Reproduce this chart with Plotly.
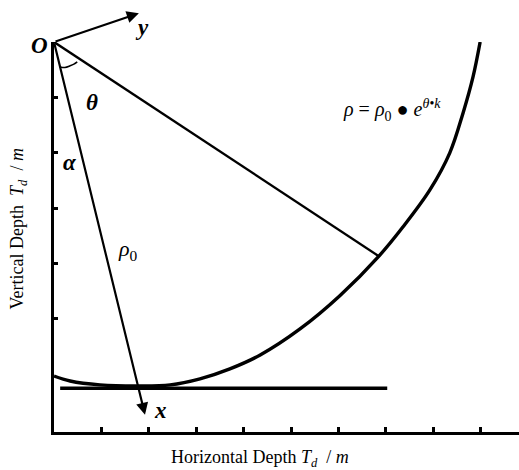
import plotly.graph_objects as go

# ---- diagram data (axis units: horizontal / vertical depth) ----
curve_x = [0.00, 0.34, 0.97, 1.81, 2.45, 3.08, 3.71, 4.35, 5.19, 6.03, 6.86, 7.36, 7.93, 8.35, 8.63, 8.84, 8.99]
curve_y = [6.03, 6.12, 6.19, 6.21, 6.19, 6.08, 5.90, 5.65, 5.18, 4.58, 3.86, 3.34, 2.67, 2.00, 1.28, 0.63, 0.00]

origin = [0.0, 0.0]
rho_end = [6.86, 3.87]          # where the rho ray meets the spiral
x_axis_tip = [1.92, 6.73]       # local x axis arrow tip
y_axis_tip = [1.79, -0.52]      # local y axis arrow tip
base_x = [0.13, 7.03]           # horizontal tangent line
base_y = [6.25, 6.25]
arc_x = [0.13, 0.23, 0.34, 0.42, 0.49]
arc_y = [0.45, 0.46, 0.43, 0.40, 0.36]

x_ticks = [1, 2, 3, 4, 5, 6, 7, 8, 9]
y_ticks = [1, 2, 3, 4, 5]

labels = ["<b><i>O</i></b>", "<b><i>y</i></b>", "<b><i>θ</i></b>", "<b><i>α</i></b>",
          "<i>ρ</i><sub>0</sub>", "<b><i>x</i></b>"]
label_x = [-0.30, 1.85, 0.80, 0.34, 1.56, 2.24]
label_y = [0.07, -0.27, 1.10, 2.17, 3.75, 6.66]
label_size = [23, 23, 23, 23, 22, 23]

formula = "<i>ρ</i> = <i>ρ</i><sub>0</sub> ● <i>e</i><sup><i>θ</i>•<i>k</i></sup>"
formula_pos = [7.13, 1.22]

x_title = "Horizontal Depth <i>T</i><sub><i>d</i></sub>  / <i>m</i>"
y_title = "Vertical Depth  <i>T</i><sub><i>d</i></sub>  / <i>m</i>"

X_RANGE = [0, 9.81]
Y_RANGE = [7.04, 0]
SERIF = "Liberation Serif"


def to_paper(x, y):
    px = (x - X_RANGE[0]) / (X_RANGE[1] - X_RANGE[0])
    py = (Y_RANGE[0] - y) / (Y_RANGE[0] - Y_RANGE[1])
    return px, py


fig = go.Figure()
fig.add_trace(go.Scatter(x=curve_x, y=curve_y, mode="lines", line=dict(color="black", width=3.4, shape="spline"),
                         cliponaxis=False, hoverinfo="skip"))
fig.add_trace(go.Scatter(x=[origin[0], rho_end[0]], y=[origin[1], rho_end[1]], mode="lines",
                         line=dict(color="black", width=2.4), cliponaxis=False, hoverinfo="skip"))
fig.add_trace(go.Scatter(x=base_x, y=base_y, mode="lines", line=dict(color="black", width=3.5),
                         cliponaxis=False, hoverinfo="skip"))
fig.add_trace(go.Scatter(x=arc_x, y=arc_y, mode="lines", line=dict(color="black", width=1.6, shape="spline"),
                         cliponaxis=False, hoverinfo="skip"))

for tip in (x_axis_tip, y_axis_tip):
    fig.add_annotation(x=tip[0], y=tip[1], ax=origin[0], ay=origin[1], axref="x", ayref="y",
                       xref="x", yref="y", text="", showarrow=True, arrowhead=2, arrowsize=1.1,
                       arrowwidth=2.2, arrowcolor="black", standoff=0, startstandoff=0)

for t, lx, ly, fs in zip(labels, label_x, label_y, label_size):
    px, py = to_paper(lx, ly)
    fig.add_annotation(x=px, y=py, xref="paper", yref="paper", text=t, showarrow=False,
                       xanchor="center", yanchor="middle",
                       font=dict(family=SERIF, size=fs, color="black"))

fx, fy = to_paper(*formula_pos)
fig.add_annotation(x=fx, y=fy, xref="paper", yref="paper", text=formula, showarrow=False,
                   xanchor="center", yanchor="middle",
                   font=dict(family=SERIF, size=20, color="black"))

fig.add_annotation(x=0.444, y=-0.067, xref="paper", yref="paper", text=x_title, showarrow=False,
                   xanchor="center", yanchor="middle", font=dict(family=SERIF, size=18, color="black"))
fig.add_annotation(x=-0.077, y=0.52, xref="paper", yref="paper", text=y_title, showarrow=False,
                   xanchor="center", yanchor="middle",
                   textangle=-90, font=dict(family=SERIF, size=18, color="black"))

fig.update_xaxes(range=X_RANGE, showline=True, linewidth=2.5, linecolor="black", mirror=False,
                 ticks="inside", tickvals=x_ticks, ticklen=5, tickwidth=2.5, tickcolor="black",
                 showticklabels=False, showgrid=False, zeroline=False)
fig.update_yaxes(range=Y_RANGE, showline=True, linewidth=3, linecolor="black", mirror=False,
                 ticks="inside", tickvals=y_ticks, ticklen=4, tickwidth=2.5, tickcolor="black",
                 showticklabels=False, showgrid=False, zeroline=False)

fig.update_layout(width=519, height=470, margin=dict(l=54, r=0, t=42, b=38),
                  plot_bgcolor="white", paper_bgcolor="white", showlegend=False)

fig.write_html("out.html", config={"displayModeBar": False},
               post_script="document.body.style.margin='0';")
